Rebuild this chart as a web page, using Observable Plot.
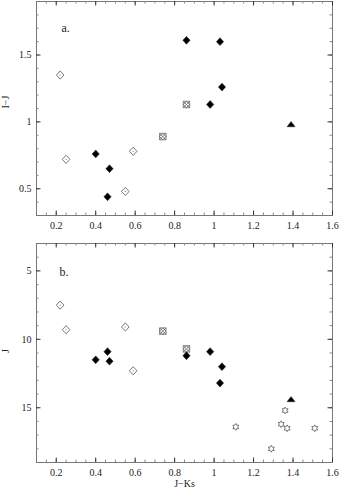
<!DOCTYPE html>
<html><head><meta charset="utf-8">
<script src="https://cdn.jsdelivr.net/npm/d3@7"></script>
<script src="https://cdn.jsdelivr.net/npm/@observablehq/plot@0.6"></script>
<style>body{margin:0;background:#fff}#chart svg{display:block}</style>
</head><body><div id="chart"></div>
<script>
// ---- data ----
const filledJK = [0.86, 1.03, 1.04, 0.98, 0.40, 0.47, 0.46];
const filledIJ = [1.61, 1.60, 1.26, 1.13, 0.76, 0.65, 0.44];
const filledJ  = [11.2, 13.2, 12.0, 10.9, 11.5, 11.6, 10.9];

const openJK = [0.22, 0.25, 0.59, 0.55];
const openIJ = [1.35, 0.72, 0.78, 0.48];
const openJ  = [7.5, 9.3, 12.3, 9.1];

const crossJK = [0.86, 0.74];
const crossIJ = [1.13, 0.89];
const crossJ  = [10.7, 9.4];

const triJK = [1.39];
const triIJ = [0.98];
const triJ  = [14.4];

const starJK = [1.11, 1.36, 1.34, 1.37, 1.51, 1.29];
const starJ  = [16.4, 15.2, 16.2, 16.5, 16.5, 18.0];

const xTickLabels = [0.2, 0.4, 0.6, 0.8, 1, 1.2, 1.4, 1.6];
const xMinorTicks = d3.range(0.15, 1.6, 0.05).map(d => +d.toFixed(2));
const yTicksA = [0.5, 1, 1.5];
const yMinorA = d3.range(0.4, 1.9, 0.1).map(d => +d.toFixed(1));
const yTicksB = [5, 10, 15];
const yMinorB = d3.range(4, 19, 1);

// ---- helpers ----
const zip = (xs, ys) => xs.map((x, i) => ({x, y: ys[i]}));
const sym = fn => ({draw(c, size) { fn(c, Math.sqrt(size / Math.PI)); }});
const diamond = sym((c, r) => { c.moveTo(0, -r * 1.08); c.lineTo(r, 0); c.lineTo(0, r * 1.08); c.lineTo(-r, 0); c.closePath(); });
const crossed = sym((c, r) => {
  const s = r * 0.85;
  c.moveTo(-s, -s); c.lineTo(s, -s); c.lineTo(s, s); c.lineTo(-s, s); c.closePath();
  c.moveTo(-s, -s); c.lineTo(s, s); c.moveTo(s, -s); c.lineTo(-s, s);
  c.moveTo(0, -s); c.lineTo(s, 0); c.lineTo(0, s); c.lineTo(-s, 0); c.closePath();
});
const triangle = sym((c, r) => { c.moveTo(0, -r * 0.75); c.lineTo(r, r * 0.55); c.lineTo(-r, r * 0.55); c.closePath(); });
const hexagram = sym((c, r) => {
  for (let k = 0; k < 12; k++) {
    const a = (-90 + k * 30) * Math.PI / 180;
    const rr = k % 2 === 0 ? r : r / Math.sqrt(3);
    const px = rr * Math.cos(a), py = rr * Math.sin(a);
    k === 0 ? c.moveTo(px, py) : c.lineTo(px, py);
  }
  c.closePath();
});

const FONT = {fontFamily: "'Liberation Serif', serif", fontSize: "10px", color: "#222", background: "#fff"};

function panel({height, marginTop, marginBottom, yDomain, yReverse, yTicks, yMinor, yLabel, tag, tagDx, tagDy, xLabel, layers}) {
  const ph = height - marginTop - marginBottom;
  const pw = 340 - 36 - 8;
  const num = d => d;
  return Plot.plot({
    width: 340, height, marginLeft: 36, marginRight: 8, marginTop, marginBottom,
    style: FONT,
    x: {domain: [0.1, 1.6]},
    y: {domain: yDomain, reverse: yReverse},
    marks: [
      Plot.frame({stroke: "#777", strokeWidth: 1}),
      // minor ticks, inward, all four sides
      Plot.tickX(xMinorTicks, {x: num, insetTop: ph - 2.5, stroke: "#888"}),
      Plot.tickX(xMinorTicks, {x: num, insetBottom: ph - 2.5, stroke: "#888"}),
      Plot.tickY(yMinor, {y: num, insetRight: pw - 2.5, stroke: "#888"}),
      Plot.tickY(yMinor, {y: num, insetLeft: pw - 2.5, stroke: "#888"}),
      // major ticks
      Plot.tickX(xTickLabels, {x: num, insetTop: ph - 4.5, stroke: "#333"}),
      Plot.tickX(xTickLabels, {x: num, insetBottom: ph - 4.5, stroke: "#333"}),
      Plot.tickY(yTicks, {y: num, insetRight: pw - 4.5, stroke: "#333"}),
      Plot.tickY(yTicks, {y: num, insetLeft: pw - 4.5, stroke: "#333"}),
      Plot.axisX({ticks: xTickLabels, tickSize: 0, tickPadding: 6, tickFormat: d => String(d), label: null}),
      Plot.axisY({ticks: yTicks, tickSize: 0, tickPadding: 5, tickFormat: d => String(d), label: null}),
      Plot.text([yLabel], {frameAnchor: "left", text: d => d, rotate: -90, dx: -31, fontSize: 10}),
      Plot.text([tag], {frameAnchor: "top-left", text: d => d, dx: tagDx, dy: tagDy, textAnchor: "start", lineAnchor: "middle", fontSize: 12}),
      ...(xLabel ? [Plot.text([xLabel], {frameAnchor: "bottom", text: d => d, dy: 24, fontSize: 10})] : []),
      ...layers
    ]
  });
}

function pointLayers(openPts, crossPts, filledPts, triPts, starPts) {
  return [
    Plot.dot(openPts, {x: "x", y: "y", symbol: diamond, r: 3.8, fill: "none", stroke: "#555", strokeWidth: 0.8}),
    Plot.dot(openPts, {x: "x", y: "y", r: 0.6, fill: "#777", stroke: "none"}),
    Plot.dot(crossPts, {x: "x", y: "y", symbol: crossed, r: 3.8, fill: "none", stroke: "#555", strokeWidth: 0.7}),
    Plot.dot(filledPts, {x: "x", y: "y", symbol: diamond, r: 3.6, fill: "#000", stroke: "#222", strokeWidth: 0.6}),
    Plot.dot(triPts, {x: "x", y: "y", symbol: triangle, r: 4, fill: "#000", stroke: "#222", strokeWidth: 0.5}),
    Plot.dot(starPts, {x: "x", y: "y", symbol: hexagram, r: 3.4, fill: "none", stroke: "#555", strokeWidth: 0.8})
  ];
}

const chartA = panel({
  height: 240, marginTop: 1, marginBottom: 25,
  yDomain: [0.3, 1.9], yReverse: false, yTicks: yTicksA, yMinor: yMinorA,
  yLabel: "I−J", tag: "a.", tagDx: 25, tagDy: 27, xLabel: null,
  layers: pointLayers(zip(openJK, openIJ), zip(crossJK, crossIJ), zip(filledJK, filledIJ), zip(triJK, triIJ), [])
});
const chartB = panel({
  height: 248, marginTop: 3, marginBottom: 26,
  yDomain: [3, 19], yReverse: true, yTicks: yTicksB, yMinor: yMinorB,
  yLabel: "J", tag: "b.", tagDx: 23, tagDy: 29, xLabel: "J−Ks",
  layers: pointLayers(zip(openJK, openJ), zip(crossJK, crossJ), zip(filledJK, filledJ), zip(triJK, triJ), zip(starJK, starJ))
});
document.getElementById("chart").append(chartA, chartB);
</script>
</body></html>
